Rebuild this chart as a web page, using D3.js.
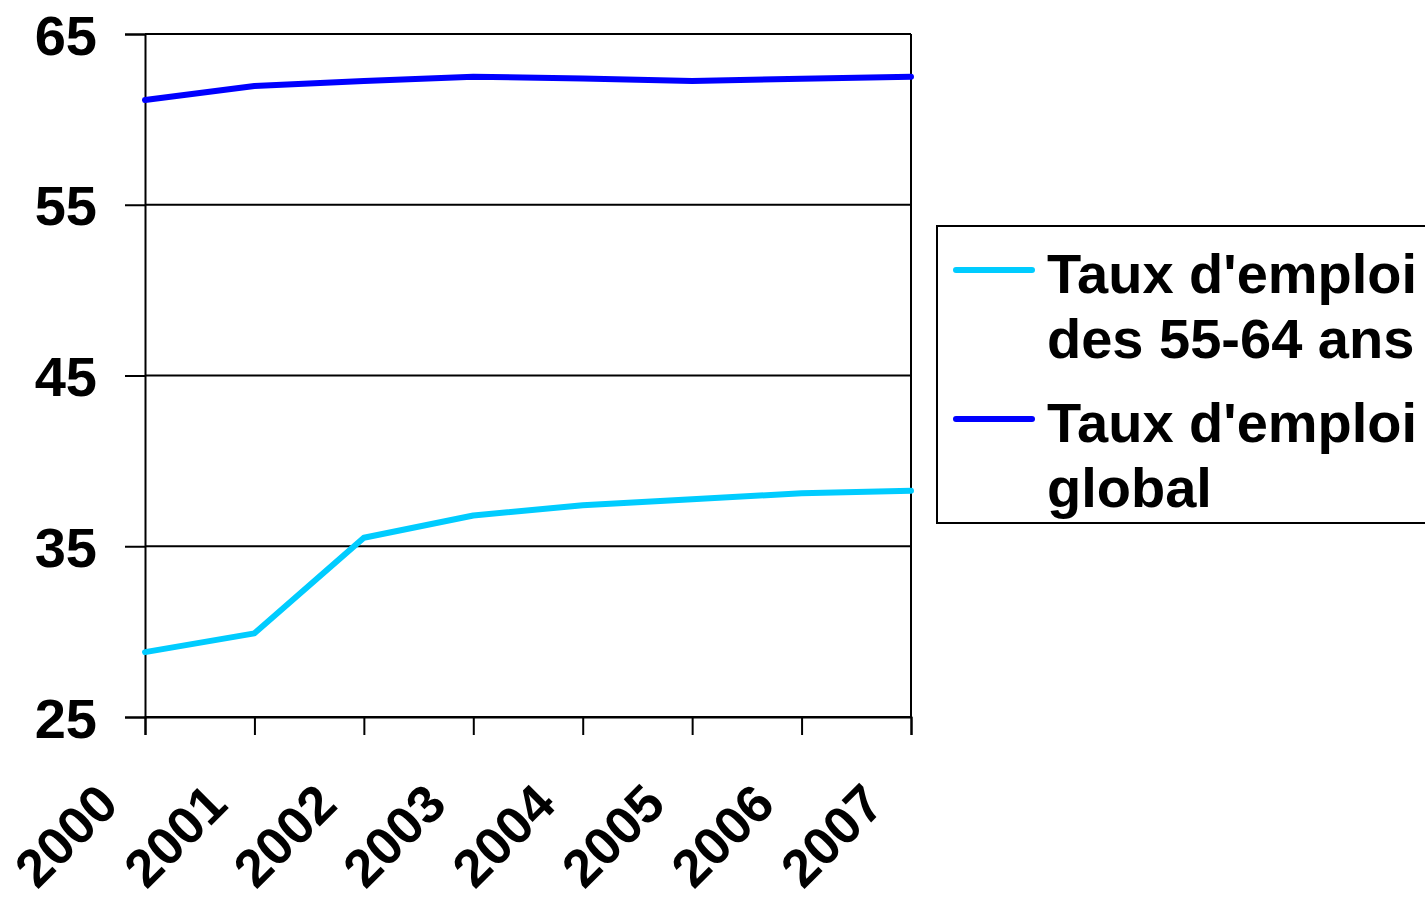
<!DOCTYPE html>
<html><head><meta charset="utf-8">
<script src="https://cdn.jsdelivr.net/npm/d3@7"></script>
<style>
html,body{margin:0;padding:0;background:#fff;}
svg{display:block;font-family:"Liberation Sans",Arial,sans-serif;font-weight:bold;}
</style></head>
<body>
<svg id="chart" width="1425" height="901"></svg>
<script>
const years = ["2000","2001","2002","2003","2004","2005","2006","2007"];
const seniors = [28.8, 29.9, 35.5, 36.8, 37.4, 37.75, 38.1, 38.25];
const global = [61.13, 61.95, 62.25, 62.5, 62.4, 62.25, 62.38, 62.5];
const yTicks = [25, 35, 45, 55, 65];
const seriesNames = [["Taux d'emploi", "des 55-64 ans"], ["Taux d'emploi", "global"]];
const seriesColors = ["#00CCFF", "#0000FF"];

const svg = d3.select("#chart");
const L = 145, R = 911, T = 34, B = 717;
const x = d3.scalePoint().domain(years).range([L, R]).padding(0);
const y = d3.scaleLinear().domain([25, 65]).range([B, T]);

// gridlines
svg.append("g").selectAll("line").data(yTicks).join("line")
  .attr("x1", L).attr("x2", R).attr("y1", d => y(d)).attr("y2", d => y(d))
  .attr("stroke", "#000").attr("stroke-width", 2);

// right border
svg.append("line").attr("x1", R).attr("x2", R).attr("y1", T).attr("y2", B)
  .attr("stroke", "#000").attr("stroke-width", 2);

// y axis
const yAxis = d3.axisLeft(y).tickValues(yTicks).tickSize(20).tickPadding(28).tickFormat(d3.format("d"));
const gy = svg.append("g").attr("transform", `translate(${L},0)`).call(yAxis);
gy.select(".domain").attr("stroke", "#000").attr("stroke-width", 2);
gy.selectAll(".tick line").attr("stroke", "#000").attr("stroke-width", 2);
gy.selectAll(".tick text").attr("font-size", 56).attr("font-weight", "bold").attr("fill", "#000")
  .attr("font-family", "Liberation Sans, Arial, sans-serif").attr("dy", "0.36em");

// x axis
const xAxis = d3.axisBottom(x).tickSize(18).tickFormat(d => d);
const gx = svg.append("g").attr("transform", `translate(0,${B})`).call(xAxis);
gx.select(".domain").attr("stroke", "#000").attr("stroke-width", 2);
gx.selectAll(".tick line").attr("stroke", "#000").attr("stroke-width", 2);
gx.selectAll(".tick text")
  .attr("font-size", 53).attr("font-weight", "bold").attr("fill", "#000")
  .attr("font-family", "Liberation Sans, Arial, sans-serif")
  .attr("text-anchor", "end").attr("dy", null).attr("y", 0)
  .attr("transform", "translate(-25,90) rotate(-45)");

// lines
const line = d3.line().x((d, i) => x(years[i])).y(d => y(d));
[seniors, global].forEach((s, k) => {
  svg.append("path").datum(s).attr("d", line)
    .attr("fill", "none").attr("stroke", seriesColors[k]).attr("stroke-width", 6)
    .attr("stroke-linejoin", "round").attr("stroke-linecap", "round");
});

// legend
const lg = svg.append("g");
lg.append("rect").attr("x", 937).attr("y", 226).attr("width", 600).attr("height", 297)
  .attr("fill", "#fff").attr("stroke", "#000").attr("stroke-width", 2);
const legY = [270, 419];
seriesNames.forEach((nm, k) => {
  lg.append("line").attr("x1", 956).attr("x2", 1032).attr("y1", legY[k]).attr("y2", legY[k])
    .attr("stroke", seriesColors[k]).attr("stroke-width", 6).attr("stroke-linecap", "round");
  const t = lg.append("text").attr("x", 1047).attr("y", legY[k] + 23)
    .attr("font-size", 56).attr("font-weight", "bold").attr("fill", "#000");
  nm.forEach((ln, j) => {
    t.append("tspan").attr("x", 1047).attr("dy", j === 0 ? 0 : 65).text(ln);
  });
});
</script>
</body></html>
